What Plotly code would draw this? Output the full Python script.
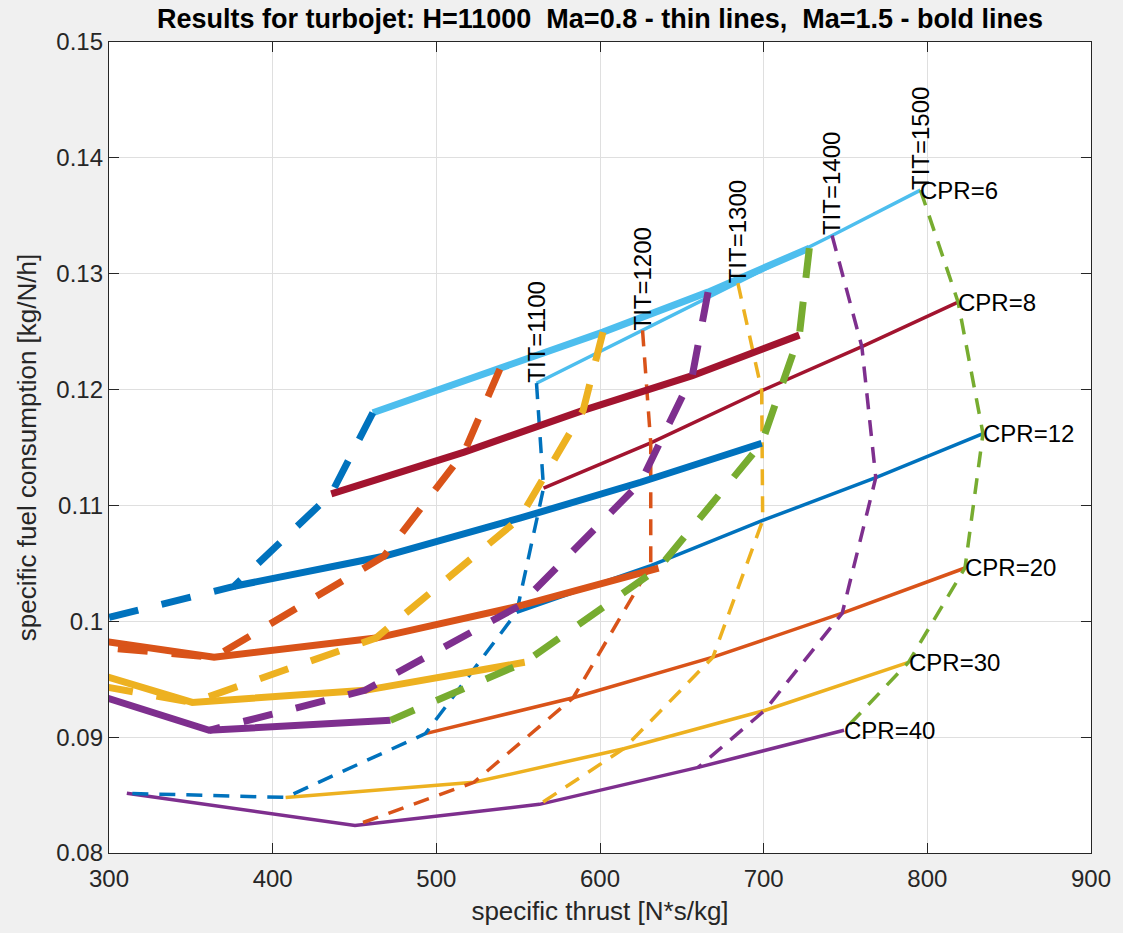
import plotly.graph_objects as go

# ---- data ----
CPR = [6, 8, 12, 20, 30, 40]
TIT = [1100, 1200, 1300, 1400, 1500]

# Ma = 0.8 (thin lines): rows = CPR, columns = TIT
thrust_m08 = [
    [561.2, 626.0, 684.2, 741.8, 795.8],
    [565.5, 631.0, 698.8, 760.0, 818.8],
    [549.1, 631.0, 699.4, 768.5, 834.0],
    [493.3, 583.6, 669.0, 748.0, 823.0],
    [407.9, 523.0, 614.5, 700.6, 788.5],
    [310.9, 450.3, 563.0, 660.0, 749.1],
]
sfc_m08 = [
    [0.12055, 0.1251, 0.1292, 0.1333, 0.13722],
    [0.1115, 0.1154, 0.1199, 0.1237, 0.12755],
    [0.10078, 0.1048, 0.1087, 0.1124, 0.1162],
    [0.0903, 0.0934, 0.0969, 0.1007, 0.1046],
    [0.0848, 0.0861, 0.0890, 0.0923, 0.09646],
    [0.08515, 0.08238, 0.0842, 0.08739, 0.09059],
]

# Ma = 1.5 (bold lines); None = point lies outside the visible range
thrust_m15 = [
    [461.2, 538.8, 601.8, 666.0, 727.9],
    [435.8, 517.0, 589.7, 656.4, 721.8],
    [376.4, 467.9, 551.0, 624.8, 698.8],
    [262.0, 364.2, 463.0, 550.3, 635.8],
    [None, 214.0, 350.9, 456.4, 554.0],
    [None, None, 251.5, 361.2, 472.0],
]
sfc_m15 = [
    [0.1180, 0.12176, 0.12496, 0.12841, 0.13221],
    [0.1110, 0.1146, 0.1182, 0.1212, 0.1247],
    [0.10302, 0.10561, 0.1089, 0.1120, 0.11537],
    [0.0990, 0.09689, 0.09855, 0.1013, 0.10458],
    [None, 0.0988, 0.0930, 0.09404, 0.09646],
    [None, None, 0.0955, 0.09059, 0.09145],
]

x_ticks = [300, 400, 500, 600, 700, 800, 900]
y_ticks = [0.08, 0.09, 0.10, 0.11, 0.12, 0.13, 0.14, 0.15]
y_ticktext = ["0.08", "0.09", "0.1", "0.11", "0.12", "0.13", "0.14", "0.15"]

# ---- styling ----
CPR_COLORS = ["#4DBEEE", "#A2142F", "#0072BD", "#D95319", "#EDB120", "#7E2F8E"]
TIT_COLORS = ["#0072BD", "#D95319", "#EDB120", "#7E2F8E", "#77AC30"]
FONT = "Liberation Sans, Arial, Helvetica, sans-serif"
AXC = "#262626"

fig = go.Figure()


def add_set(thrust, sfc, width, dash):
    # CPR lines (solid)
    for i, c in enumerate(CPR):
        fig.add_trace(go.Scatter(
            x=thrust[i], y=sfc[i], mode="lines",
            line=dict(color=CPR_COLORS[i], width=width),
            showlegend=False, hoverinfo="skip"))
    # TIT lines (dashed)
    for j, t in enumerate(TIT):
        fig.add_trace(go.Scatter(
            x=[thrust[i][j] for i in range(len(CPR))],
            y=[sfc[i][j] for i in range(len(CPR))],
            mode="lines",
            line=dict(color=TIT_COLORS[j], width=width, dash=dash),
            showlegend=False, hoverinfo="skip"))


add_set(thrust_m08, sfc_m08, 3.5, "16px,11px")
add_set(thrust_m15, sfc_m15, 7, "30px,24px")

annotations = []
for i, c in enumerate(CPR):
    annotations.append(dict(
        x=thrust_m08[i][-1], y=sfc_m08[i][-1], xref="x", yref="y",
        text=f"CPR={c}", showarrow=False, xanchor="left", yanchor="middle",
        font=dict(family=FONT, size=24, color="black"), xshift=-2))
for j, t in enumerate(TIT):
    annotations.append(dict(
        x=thrust_m08[0][j], y=sfc_m08[0][j], xref="x", yref="y",
        text=f"TIT={t}", showarrow=False, textangle=-90,
        xanchor="center", yanchor="bottom",
        font=dict(family=FONT, size=24, color="black"), yshift=-2))

fig.update_layout(
    width=1123, height=933,
    paper_bgcolor="#f0f0f0", plot_bgcolor="white",
    margin=dict(l=109, r=25, t=42, b=80),
    title=dict(
        text="<b>Results for turbojet: H=11000  Ma=0.8 - thin lines,  Ma=1.5 - bold lines</b>",
        x=0.5, xref="paper", xanchor="center",
        y=1 - 19 / 933, yref="container", yanchor="middle",
        font=dict(family=FONT, size=27, color="black")),
    annotations=annotations,
    font=dict(family=FONT, size=24, color=AXC),
)
fig.update_xaxes(
    range=[300, 900], tickvals=x_ticks, ticktext=[str(v) for v in x_ticks],
    showline=True, linecolor=AXC, linewidth=1.3, mirror="ticks",
    ticks="inside", ticklen=10, tickwidth=1.3, tickcolor=AXC,
    showgrid=True, gridcolor="#dfdfdf", gridwidth=1, zeroline=False,
    ticklabelstandoff=4,
    tickfont=dict(family=FONT, size=24, color=AXC),
    title=dict(text="specific thrust [N*s/kg]", standoff=10,
               font=dict(family=FONT, size=26, color=AXC)))
fig.update_yaxes(
    range=[0.08, 0.15], tickvals=y_ticks, ticktext=y_ticktext,
    showline=True, linecolor=AXC, linewidth=1.3, mirror="ticks",
    ticks="inside", ticklen=10, tickwidth=1.3, tickcolor=AXC,
    showgrid=True, gridcolor="#dfdfdf", gridwidth=1, zeroline=False,
    tickfont=dict(family=FONT, size=24, color=AXC),
    title=dict(text="specific fuel consumption [kg/N/h]", standoff=12,
               font=dict(family=FONT, size=26, color=AXC)))

fig.write_html(
    "out.html",
    config={"displayModeBar": False},
    post_script="document.body.style.margin='0';"
                "document.body.style.overflow='hidden';"
                "document.body.style.background='#f0f0f0';")
